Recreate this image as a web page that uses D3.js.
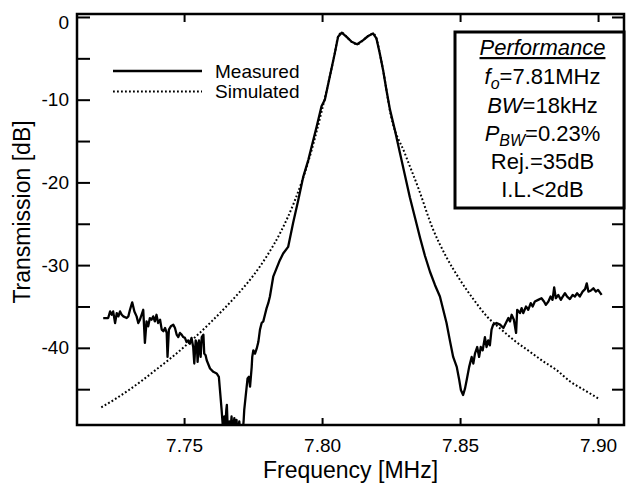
<!DOCTYPE html>
<html>
<head>
<meta charset="utf-8">
<script src="https://cdn.jsdelivr.net/npm/d3@7"></script>
<style>
  body { margin: 0; background: #fff; }
  svg { display: block; font-family: "Liberation Sans", Arial, Helvetica, sans-serif; }
</style>
</head>
<body>
<div id="chart"></div>
<script>
// Measured transmission, MHz / dB
const measFreq = [7.7207,7.7225,7.7232,7.7238,7.7243,7.7250,7.7256,7.7262,7.7268,7.7274,7.7280,7.7292,7.7298,7.7304,7.7312,7.7320,7.7328,7.7334,7.7340,7.7346,7.7352,7.7358,7.7364,7.7370,7.7376,7.7382,7.7388,7.7394,7.7400,7.7406,7.7413,7.7419,7.7425,7.7431,7.7437,7.7440,7.7445,7.7452,7.7461,7.7467,7.7473,7.7479,7.7485,7.7491,7.7497,7.7503,7.7509,7.7515,7.7521,7.7527,7.7533,7.7537,7.7542,
  7.7546,7.7549,7.7554,7.7560,7.7564,7.7570,7.7573,7.7578,7.7582,7.7594,7.7606,7.7618,7.7626,7.7630,7.7636,7.7640,7.7643,7.7646,7.7648,7.7653,7.7655,7.7659,7.7664,7.7667,7.7672,7.7676,7.7682,7.7685,7.7690,7.7694,7.7700,7.7705,7.7712,7.7716,
  7.7718,7.7723,7.7730,7.7735,7.7739,7.7745,7.7747,7.7751,7.7757,7.7763,7.7769,7.7775,7.7781,7.7787,7.7793,7.7799,7.7805,7.7811,
  7.7823,7.7847,7.7859,7.7877,7.7895,7.7914,7.7932,7.7950,7.7980,7.7998,
  7.8010,7.8028,7.8046,7.8058,7.8071,7.8089,7.8107,7.8127,7.8149,7.8167,7.8185,7.8197,7.8209,7.8221,7.8233,7.8246,
  7.8264,7.8282,7.8300,7.8318,7.8337,7.8355,7.8373,7.8391,7.8409,
  7.8427,7.8439,7.8451,7.8463,7.8475,7.8488,7.8497,7.8503,7.8511,7.8518,7.8524,7.8533,7.8542,7.8548,7.8554,7.8562,7.8569,7.8575,7.8582,7.8590,7.8596,7.8602,7.8608,7.8614,7.8620,7.8632,7.8645,7.8657,7.8666,7.8675,7.8681,7.8687,7.8695,7.8703,7.8707,7.8717,7.8723,7.8729,7.8739,7.8747,7.8756,7.8763,7.8771,7.8783,7.8795,7.8804,7.8811,7.8820,7.8828,7.8835,7.8841,7.8847,7.8856,7.8865,7.8872,7.8880,7.8888,7.8898,7.8908,7.8916,7.8924,7.8934,7.8944,7.8953,7.8959,7.8965,7.8973,7.8983,7.8992,7.9000,7.9013];
const measDb = [-36.4,-36.4,-35.6,-36.0,-35.6,-37.0,-35.8,-36.2,-35.6,-36.0,-36.2,-36.4,-36.2,-35.4,-34.5,-35.6,-36.2,-37.0,-36.6,-36.0,-35.4,-39.4,-36.8,-37.4,-36.4,-36.6,-36.2,-36.8,-36.0,-37.0,-36.6,-37.8,-38.0,-37.6,-38.2,-41.1,-37.8,-37.4,-37.2,-37.6,-38.4,-38.7,-38.2,-38.4,-38.7,-38.8,-39.3,-39.1,-39.5,-38.8,-39.9,-41.9,-39.1,
  -39.5,-41.7,-39.1,-41.1,-38.7,-38.4,-40.7,-40.9,-41.5,-42.5,-42.9,-43.1,-43.5,-45.1,-47.5,-49.3,-50.5,-48.3,-50.5,-47.5,-46.9,-50.5,-48.9,-50.5,-48.3,-50.5,-48.5,-50.5,-48.7,-50.5,-48.9,-50.5,-50.5,-48.7,
  -47.5,-45.9,-43.7,-43.5,-44.7,-42.3,-41.1,-40.3,-40.7,-40.1,-39.3,-37.8,-37.0,-36.8,-36.0,-35.2,-34.6,-33.8,
  -31.4,-29.4,-28.6,-27.8,-24.9,-22.1,-19.3,-17.3,-13.3,-10.8,
  -10.0,-7.2,-4.4,-2.4,-1.9,-2.4,-3.0,-3.3,-2.8,-2.3,-2.0,-2.6,-4.4,-6.4,-8.8,-11.2,
  -13.7,-16.4,-19.1,-21.8,-24.3,-26.7,-28.9,-30.8,-32.4,
  -33.8,-35.4,-37.0,-39.1,-41.1,-42.3,-43.9,-45.1,-45.7,-44.9,-43.9,-42.3,-41.1,-41.9,-40.7,-39.9,-41.1,-39.9,-40.3,-38.7,-39.9,-39.1,-39.7,-37.8,-37.2,-37.0,-37.2,-37.6,-37.0,-36.4,-36.8,-36.0,-36.6,-38.2,-35.4,-35.8,-35.2,-35.8,-35.0,-35.4,-34.6,-35.0,-34.4,-34.2,-34.0,-34.4,-34.8,-34.4,-33.8,-34.2,-32.7,-34.0,-33.6,-34.2,-33.8,-33.4,-33.8,-34.1,-33.6,-33.8,-33.4,-33.8,-33.2,-32.9,-32.2,-33.2,-33.1,-32.8,-33.2,-33.0,-33.6];

// Simulated response (its top lies under the measured trace)
const simFreq = [7.720,7.725,7.730,7.735,7.740,7.745,7.750,7.755,7.760,7.765,7.770,7.775,7.780,7.785,7.790,7.795,7.800,7.8028,7.8046,7.8058,7.8071,7.8089,7.8107,7.8127,7.8149,7.8167,7.8185,7.8197,7.8209,7.8221,7.825,7.830,7.835,7.840,7.845,7.850,7.855,7.860,7.865,7.870,7.875,7.880,7.885,7.890,7.895,7.900];
const simDb = [-47.2,-46.2,-45.1,-43.9,-42.6,-41.3,-39.9,-38.4,-36.8,-35.1,-33.3,-31.3,-28.9,-26.0,-22.3,-17.5,-11.2,-7.2,-4.4,-2.4,-1.9,-2.4,-3.0,-3.3,-2.8,-2.3,-2.0,-2.6,-4.4,-6.4,-12.0,-16.5,-20.8,-25.5,-29.0,-31.8,-34.2,-36.3,-37.8,-39.2,-40.4,-41.6,-42.7,-44.1,-45.1,-46.1];

const xTicks = [7.75, 7.80, 7.85, 7.90];
const yTicks = [0, -5, -10, -15, -20, -25, -30, -35, -40, -45];
const yLabels = [0, -10, -20, -30, -40];

const legendNames = ["Measured", "Simulated"];

const fullWidth = 627;
const fullHeight = 485;
const margin = { top: 14, right: 3, bottom: 60, left: 77 };
const width = fullWidth - margin.left - margin.right;
const height = fullHeight - margin.top - margin.bottom;

const svg = d3.select("#chart")
  .append("svg")
  .attr("width", fullWidth)
  .attr("height", fullHeight);

const g = svg.append("g")
  .attr("transform", `translate(${margin.left},${margin.top})`);

// Scales
const xScale = d3.scaleLinear()
  .domain([7.7112, 7.9094])
  .range([0, width]);

const yScale = d3.scaleLinear()
  .domain([-49.33, 0.36])
  .range([height, 0]);

g.append("clipPath")
  .attr("id", "plotClip")
  .append("rect")
  .attr("width", width)
  .attr("height", height);

// Curves
const measured = measFreq.map((f, i) => ({ f: f, v: measDb[i] }));
const simulated = simFreq.map((f, i) => ({ f: f, v: simDb[i] }));

const line = d3.line()
  .x(d => xScale(d.f))
  .y(d => yScale(d.v));

const simLine = d3.line()
  .curve(d3.curveMonotoneX)
  .x(d => xScale(d.f))
  .y(d => yScale(d.v));

g.append("path")
  .datum(simulated)
  .attr("clip-path", "url(#plotClip)")
  .attr("fill", "none")
  .attr("stroke", "#000")
  .attr("stroke-width", 2)
  .attr("stroke-dasharray", "1.8,2.2")
  .attr("d", simLine);

g.append("path")
  .datum(measured)
  .attr("clip-path", "url(#plotClip)")
  .attr("fill", "none")
  .attr("stroke", "#000")
  .attr("stroke-width", 2.3)
  .attr("stroke-linejoin", "round")
  .attr("d", line);

// Axes (ticks point inward)
function styleAxis(sel) {
  sel.select(".domain").remove();
  sel.selectAll(".tick line").attr("stroke", "#000").attr("stroke-width", 2);
  sel.selectAll(".tick text")
    .attr("fill", "#000")
    .style("font-size", "19px")
    .style("font-family", "'Liberation Sans', Arial, sans-serif");
}

g.append("g")
  .call(d3.axisLeft(yScale)
    .tickValues(yTicks)
    .tickSize(-13)
    .tickPadding(8)
    .tickFormat(d => yLabels.includes(d) ? String(d) : ""))
  .call(styleAxis)
  .selectAll(".tick text")
  .filter(d => d === 0)
  .attr("dy", "0.62em");

g.append("g")
  .attr("transform", `translate(0,${height})`)
  .call(d3.axisBottom(xScale)
    .tickValues(xTicks)
    .tickSize(-7)
    .tickPadding(14)
    .tickFormat(d3.format(".2f")))
  .call(styleAxis);

g.append("g")
  .call(d3.axisTop(xScale).tickValues(xTicks).tickSize(-8).tickFormat(""))
  .call(styleAxis);

g.append("g")
  .attr("transform", `translate(${width},0)`)
  .call(d3.axisRight(yScale).tickValues(yTicks).tickSize(-12).tickFormat(""))
  .call(styleAxis);

// frame
g.append("rect")
  .attr("width", width)
  .attr("height", height)
  .attr("fill", "none")
  .attr("stroke", "#000")
  .attr("stroke-width", 2.5);

// Axis labels
g.append("text")
  .attr("x", width / 2)
  .attr("y", height + 53)
  .attr("text-anchor", "middle")
  .style("font-size", "23px")
  .text("Frequency [MHz]");

g.append("text")
  .attr("transform", "rotate(-90)")
  .attr("x", -198)
  .attr("y", -47)
  .attr("text-anchor", "middle")
  .style("font-size", "23px")
  .text("Transmission [dB]");

// Legend
const legend = g.append("g").attr("transform", "translate(36,57)");
legendNames.forEach((name, i) => {
  const row = legend.append("g").attr("transform", `translate(0,${i * 20.5})`);
  row.append("line")
    .attr("x1", 0).attr("x2", 89)
    .attr("stroke", "#000")
    .attr("stroke-width", i === 0 ? 2.3 : 2)
    .attr("stroke-dasharray", i === 0 ? null : "1.8,2.2");
  row.append("text")
    .attr("x", 102)
    .attr("dy", "0.35em")
    .style("font-size", "19px")
    .text(name);
});

// Performance box
const boxX = 378, boxY = 18, boxW = width - boxX, boxH = 176;
g.append("rect")
  .attr("x", boxX)
  .attr("y", boxY)
  .attr("width", boxW)
  .attr("height", boxH)
  .attr("fill", "#fff")
  .attr("stroke", "#000")
  .attr("stroke-width", 3);

const cx = boxX + boxW / 2 + 3;
const box = g.append("g").style("font-size", "22px").attr("text-anchor", "middle");

box.append("text")
  .attr("x", cx).attr("y", boxY + 23)
  .style("font-style", "italic")
  .style("text-decoration", "underline")
  .text("Performance");

const t1 = box.append("text").attr("x", cx).attr("y", boxY + 52);
t1.append("tspan").style("font-style", "italic").text("f");
t1.append("tspan").style("font-style", "italic").style("font-size", "16px").attr("dy", 5).text("o");
t1.append("tspan").attr("dy", -5).text("=7.81MHz");

const t2 = box.append("text").attr("x", cx).attr("y", boxY + 81);
t2.append("tspan").style("font-style", "italic").text("BW");
t2.append("tspan").text("=18kHz");

const t3 = box.append("text").attr("x", cx).attr("y", boxY + 109);
t3.append("tspan").style("font-style", "italic").text("P");
t3.append("tspan").style("font-style", "italic").style("font-size", "16px").attr("dy", 5).text("BW");
t3.append("tspan").attr("dy", -5).text("=0.23%");

box.append("text")
  .attr("x", cx).attr("y", boxY + 137)
  .text("Rej.=35dB");

box.append("text")
  .attr("x", cx).attr("y", boxY + 165)
  .text("I.L.<2dB");
</script>
</body>
</html>
